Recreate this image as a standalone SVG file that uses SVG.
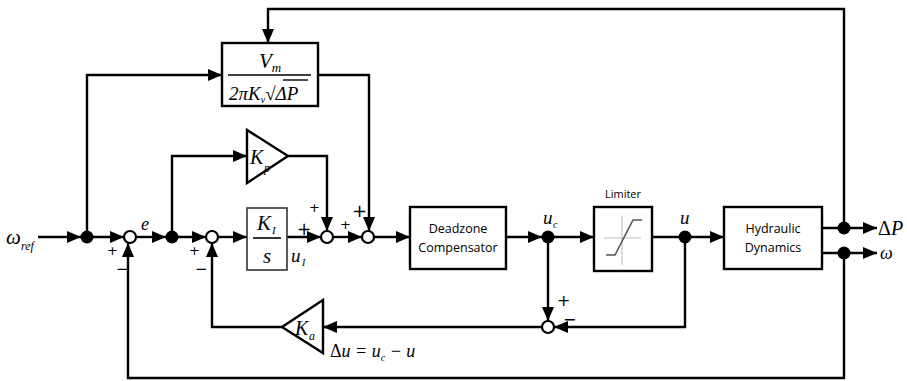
<svg xmlns="http://www.w3.org/2000/svg" width="907" height="381" viewBox="0 0 907 381">
<defs>
<marker id="ah" viewBox="0 0 14 12" refX="14" refY="6" markerWidth="14" markerHeight="12" orient="auto" markerUnits="userSpaceOnUse">
<path d="M0,0 L14,6 L0,12 z" fill="#000"/>
</marker>
</defs>
<style>
.ln{fill:none;stroke:#000;stroke-width:2.4}
.blk{fill:#fff;stroke:#000;stroke-width:2.4}
.sum{fill:#fff;stroke:#000;stroke-width:2.2}
.dot{fill:#000}
.m{font-family:"Liberation Serif",serif;font-style:italic;fill:#000}
.r{font-family:"Liberation Serif",serif;fill:#000}
.pm{font-family:"DejaVu Sans",sans-serif;fill:#000}
.s{font-family:"Open Sans","Liberation Sans",sans-serif;fill:#000}
</style>
<rect width="907" height="381" fill="#fff"/>

<g id="connectors">
<path class="ln" d="M38,237 H81" marker-end="url(#ah)"/>
<path class="ln" d="M87,237 H124" marker-end="url(#ah)"/>
<path class="ln" d="M136,237 H166" marker-end="url(#ah)"/>
<path class="ln" d="M172,237 H206" marker-end="url(#ah)"/>
<path class="ln" d="M218,237 H247" marker-end="url(#ah)"/>
<path class="ln" d="M287,237 H321" marker-end="url(#ah)"/>
<path class="ln" d="M333,237 H362" marker-end="url(#ah)"/>
<path class="ln" d="M374,237 H410" marker-end="url(#ah)"/>
<path class="ln" d="M506,237 H542" marker-end="url(#ah)"/>
<path class="ln" d="M548,237 H594" marker-end="url(#ah)"/>
<path class="ln" d="M652,237 H685"/>
<path class="ln" d="M685,237 H724" marker-end="url(#ah)"/>
<path class="ln" d="M822,228 H877" marker-end="url(#ah)"/>
<path class="ln" d="M822,253 H877" marker-end="url(#ah)"/>
<path class="ln" d="M844,228 V9 H268 V43" marker-end="url(#ah)"/>
<path class="ln" d="M844,253 V378 H128 V243" marker-end="url(#ah)"/>
<path class="ln" d="M87,237 V75 H222" marker-end="url(#ah)"/>
<path class="ln" d="M172,237 V156 H247" marker-end="url(#ah)"/>
<path class="ln" d="M288,156 H327 V231" marker-end="url(#ah)"/>
<path class="ln" d="M318,75 H369 V231" marker-end="url(#ah)"/>
<path class="ln" d="M548,237 V321" marker-end="url(#ah)"/>
<path class="ln" d="M685,237 V327 H554" marker-end="url(#ah)"/>
<path class="ln" d="M542,327 H323" marker-end="url(#ah)"/>
<path class="ln" d="M282,327 H212 V243" marker-end="url(#ah)"/>
</g>

<g id="input">
<text class="m" x="6" y="244" font-size="21">ω</text>
<text class="m" x="21" y="250" font-size="12">ref</text>
</g>

<g id="dot1"><circle class="dot" cx="87" cy="237" r="6.5"/></g>
<g id="sum1">
<circle class="sum" cx="130" cy="237" r="6"/>
<text class="pm" x="107" y="255" font-size="13">+</text>
<text class="pm" x="116" y="274" font-size="15">−</text>
<text class="m" x="141" y="230" font-size="18">e</text>
</g>
<g id="dot2"><circle class="dot" cx="172" cy="237" r="6.5"/></g>
<g id="sum2">
<circle class="sum" cx="212" cy="237" r="6"/>
<text class="pm" x="189" y="255" font-size="13">+</text>
<text class="pm" x="195" y="274" font-size="15">−</text>
</g>

<g id="vm-block">
<rect class="blk" x="222" y="43" width="96" height="63"/>
<text class="m" x="270" y="68" font-size="21" text-anchor="middle">V<tspan font-size="13" dy="4">m</tspan></text>
<line x1="228" y1="75" x2="311" y2="75" stroke="#000" stroke-width="1.6"/>
<text class="m" x="229" y="100" font-size="19">2πK<tspan font-size="10" dy="3">v</tspan><tspan dy="-3" font-style="normal">√</tspan>ΔP</text>
<line x1="283" y1="80" x2="308" y2="80" stroke="#000" stroke-width="1.4"/>
</g>

<g id="kp">
<polygon class="blk" points="247,130 247,183 288,156"/>
<text class="m" x="250" y="164" font-size="20">K</text>
<text class="m" x="264" y="172" font-size="12">p</text>
</g>

<g id="ki-block">
<rect x="247" y="208" width="40" height="62" fill="#fff" stroke="#333" stroke-width="1.6"/>
<text class="m" x="257" y="230" font-size="21">K</text>
<text class="m" x="272" y="234" font-size="11">I</text>
<line x1="253" y1="238" x2="281" y2="238" stroke="#000" stroke-width="1.6"/>
<text class="m" x="267" y="263" font-size="21" text-anchor="middle">s</text>
</g>

<g id="sum3">
<circle class="sum" cx="327" cy="237" r="6"/>
<text class="pm" x="297" y="235" font-size="17">+</text>
<text class="pm" x="309" y="212" font-size="13">+</text>
<text class="m" x="291" y="262" font-size="19">u</text>
<text class="m" x="302" y="266" font-size="10">I</text>
</g>
<g id="sum4">
<circle class="sum" cx="368" cy="237" r="6"/>
<text class="pm" x="340" y="229" font-size="13">+</text>
<text class="pm" x="352" y="217" font-size="18">+</text>
</g>

<g id="deadzone">
<rect class="blk" x="410" y="207" width="96" height="62"/>
<text class="s" x="458" y="233" font-size="12.5" text-anchor="middle">Deadzone</text>
<text class="s" x="458" y="252" font-size="12.5" text-anchor="middle">Compensator</text>
</g>

<g id="dot-uc">
<circle class="dot" cx="548" cy="237" r="6.5"/>
<text class="m" x="543" y="224" font-size="19">u</text>
<text class="m" x="553" y="228" font-size="10">c</text>
</g>

<g id="limiter">
<text class="s" x="623" y="198" font-size="11" text-anchor="middle">Limiter</text>
<rect class="blk" x="594" y="207" width="58" height="64"/>
<line x1="622" y1="216" x2="622" y2="265" stroke="#bbb" stroke-width="1"/>
<line x1="604" y1="238" x2="641" y2="238" stroke="#bbb" stroke-width="1"/>
<path d="M606,255 H615 L633,220 H642" fill="none" stroke="#555" stroke-width="1.6"/>
</g>

<g id="dot-u">
<circle class="dot" cx="685" cy="237" r="6.5"/>
<text class="m" x="680" y="224" font-size="19">u</text>
</g>

<g id="hydraulic">
<rect class="blk" x="724" y="207" width="98" height="62"/>
<text class="s" x="773" y="233" font-size="12.5" text-anchor="middle">Hydraulic</text>
<text class="s" x="773" y="252" font-size="12.5" text-anchor="middle">Dynamics</text>
</g>

<g id="outputs">
<circle class="dot" cx="844" cy="228" r="6.5"/>
<circle class="dot" cx="844" cy="253" r="6.5"/>
<text class="m" x="878" y="235" font-size="20"><tspan font-style="normal">Δ</tspan>P</text>
<text class="m" x="880" y="259" font-size="18">ω</text>
</g>

<g id="sum5">
<circle class="sum" cx="548" cy="327" r="6"/>
<text class="pm" x="557" y="306" font-size="16">+</text>
<text class="pm" x="563" y="325" font-size="16">−</text>
</g>

<g id="ka">
<polygon class="blk" points="323,300 323,353 282,327"/>
<text class="m" x="295" y="335" font-size="20">K</text>
<text class="m" x="309" y="340" font-size="12">a</text>
<text class="m" x="330" y="357" font-size="18"><tspan font-style="normal">Δ</tspan>u = u<tspan font-size="10" dy="4">c</tspan><tspan dy="-4"> − u</tspan></text>
</g>
</svg>
